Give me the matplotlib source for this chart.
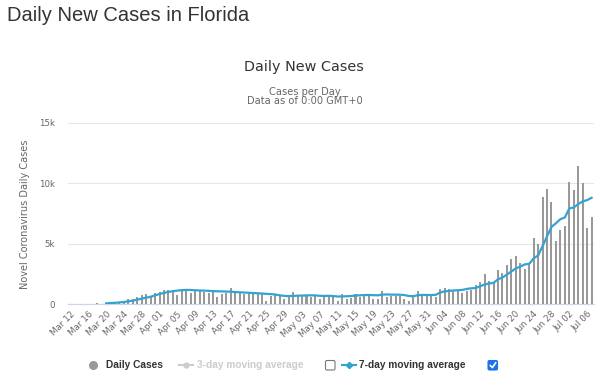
import numpy as np
import matplotlib
matplotlib.use("Agg")
import matplotlib.pyplot as plt
from matplotlib.patches import FancyBboxPatch

# ---------------- data ----------------
tick_labels = ["Mar 12", "Mar 16", "Mar 20", "Mar 24", "Mar 28", "Apr 01", "Apr 05",
               "Apr 09", "Apr 13", "Apr 17", "Apr 21", "Apr 25", "Apr 29", "May 03",
               "May 07", "May 11", "May 15", "May 19", "May 23", "May 27", "May 31",
               "Jun 04", "Jun 08", "Jun 12", "Jun 16", "Jun 20", "Jun 24", "Jun 28",
               "Jul 02", "Jul 06"]

# Mar 12 .. Jul 07 (118 days)
daily_cases = [
    0, 0, 0, 0, 0, 0, 80, 0, 40, 60,
    200, 150, 210, 380, 400, 600, 740, 800, 680, 940,
    980, 1140, 1150, 1140, 720, 1170, 1170, 950, 1050, 1110,
    1000, 920, 960, 600, 850, 900, 1330, 880, 900, 800,
    900, 820, 850, 900, 260, 700, 720, 650, 380, 700,
    1000, 700, 700, 720, 600, 720, 400, 650, 700, 650,
    250, 830, 440, 530, 830, 610, 670, 720, 440, 440, 1100, 610,
    640, 640, 690, 400, 280, 640, 1100, 750, 750, 640, 580,
    1250, 1360, 1250, 1190, 1080, 920, 1050, 1190, 1600, 1860,
    2500, 1900, 1750, 2780, 2530, 3200, 3750, 3940, 3420, 2920,
    3280, 5440, 4940, 8900, 9530, 8470, 5250, 6110, 6500, 10080,
    9440, 11420, 10030, 6280, 7250,
]

moving_avg_7 = [np.nan] * 8 + [
    50, 80, 100, 130, 170, 220, 280, 360, 440, 520, 600, 710, 830, 920,
    1000, 1060, 1110, 1150, 1170, 1160, 1140, 1120,
    1110, 1090, 1070, 1050, 1050, 1030, 1020, 990, 970, 950,
    930, 910, 890, 870, 840, 820, 780, 720, 670, 660,
    670, 690, 700, 710, 720, 710, 680, 670, 680, 660,
    620, 630, 640, 660, 700, 720, 740, 750, 730, 720,
    780, 790, 780, 770, 770, 740, 660, 650, 730, 750, 750, 740, 760,
    950, 1050, 1080, 1120, 1140, 1170, 1250, 1300, 1330, 1470,
    1620, 1700, 1750, 2050, 2200, 2440, 2700, 2950, 3100, 3280,
    3330, 3780, 4030, 4800, 5600, 6390, 6690, 7030, 7170, 7920,
    8000, 8280, 8500, 8610, 8800,
]

y_ticks = [0, 5000, 10000, 15000]
y_tick_labels = ["0", "5k", "10k", "15k"]

# ---------------- figure ----------------
plt.rcParams["font.family"] = ["DejaVu Sans"]
W, H = 600, 379
fig = plt.figure(figsize=(W / 100, H / 100), dpi=100)

left, right, top, bottom = 68.2, 593.8, 123, 304
ax = fig.add_axes([left / W, 1 - bottom / H, (right - left) / W, (bottom - top) / H])

x = np.arange(len(daily_cases))
ax.bar(x, daily_cases, width=0.45, color="#999999", zorder=2, linewidth=0)
ax.plot(x, moving_avg_7, color="#33a3d1", lw=1.6, zorder=3, solid_joinstyle="round")

ax.set_xlim(-0.5, len(daily_cases) - 0.5)
ax.set_ylim(0, 15000)
ax.set_yticks(y_ticks)
ax.set_yticklabels(y_tick_labels)
ax.set_xticks(x[::4])
ax.set_xticklabels(tick_labels, rotation=45, ha="right", va="top",
                   rotation_mode="anchor")
ax.tick_params(axis="x", length=0, pad=4, labelsize=6.3, labelcolor="#666666")
ax.tick_params(axis="y", length=0, pad=9.5, labelsize=6.2, labelcolor="#666666")
ax.yaxis.grid(True, color="#e6e6e6", lw=0.8)
ax.set_axisbelow(True)
for s in ["top", "right", "left"]:
    ax.spines[s].set_visible(False)
ax.spines["bottom"].set_color("#ccd6eb")
ax.spines["bottom"].set_linewidth(0.9)
ax.spines["bottom"].set_zorder(1)

# ---------------- overlay for texts / legend ----------------
ov = fig.add_axes([0, 0, 1, 1], zorder=5)
ov.set_xlim(0, W)
ov.set_ylim(H, 0)
ov.axis("off")
ov.patch.set_alpha(0)

ov.text(7, 21, "Daily New Cases in Florida", fontsize=14.5, family="Liberation Sans",
        color="#333333", va="baseline", ha="left")
ov.text(304, 70.5, "Daily New Cases", fontsize=10.4, color="#333333",
        ha="center", va="baseline")
ov.text(305, 95, "Cases per Day", fontsize=7.1, color="#666666",
        ha="center", va="baseline")
ov.text(305, 104.5, "Data as of 0:00 GMT+0", fontsize=7.1, color="#666666",
        ha="center", va="baseline")
ov.text(25, 214, "Novel Coronavirus Daily Cases", fontsize=7, color="#666666",
        rotation=90, ha="center", va="center")

# legend
ly = 365
lfont = dict(fontsize=7.3, family="Liberation Sans", fontweight="bold", va="baseline")
ov.plot([93], [ly], "o", ms=5.5, color="#999999", mec="#999999")
ov.text(106.5, 368.5, "Daily Cases", color="#333333", **lfont)

ov.plot([179, 193], [ly, ly], color="#cccccc", lw=1.5)
ov.plot([186], [ly], "o", ms=3.5, color="#cccccc")
ov.text(197, 368.5, "3-day moving average", color="#cccccc", **lfont)

ov.add_patch(FancyBboxPatch((325.5, 360.5), 9.5, 9.5,
                            boxstyle="round,pad=0,rounding_size=1.5",
                            facecolor="white", edgecolor="#767676", lw=0.8))

ov.plot([342, 356], [ly, ly], color="#33a3d1", lw=1.5)
ov.plot([349], [ly], "D", ms=3.2, color="#33a3d1")
ov.text(359, 368.5, "7-day moving average", color="#333333", **lfont)

ov.add_patch(FancyBboxPatch((488, 360.5), 9.5, 9.5,
                            boxstyle="round,pad=0,rounding_size=1.5",
                            facecolor="#1a73e8", edgecolor="#1a73e8", lw=0.8))
ov.plot([490.2, 492.4, 495.8], [365.4, 367.6, 362.6], color="white", lw=1.2,
        solid_capstyle="round", solid_joinstyle="round")

fig.savefig("out.png", dpi=100)
